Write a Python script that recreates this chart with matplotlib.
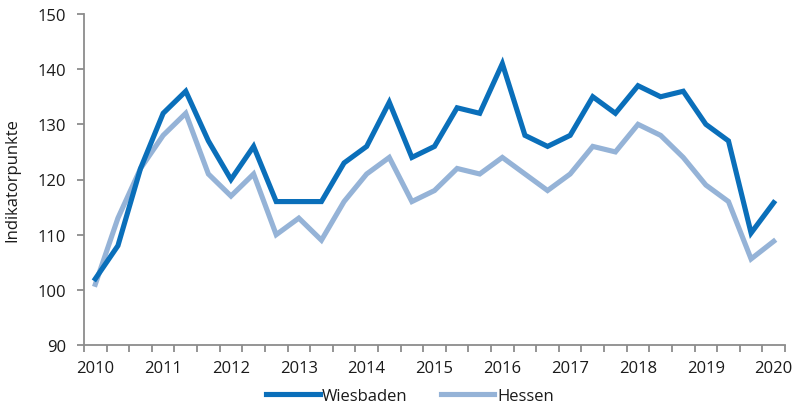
import matplotlib
matplotlib.use("Agg")
import matplotlib.pyplot as plt
import numpy as np

years = ["2010", "2011", "2012", "2013", "2014", "2015", "2016", "2017", "2018", "2019", "2020"]
wiesbaden = [102, 108, 122, 132, 136, 127, 120, 126, 116, 116, 116, 123, 126, 134, 124, 126,
             133, 132, 141, 128, 126, 128, 135, 132, 137, 135, 136, 130, 127, 110.3, 115.8]
hessen = [101, 113, 122, 128, 132, 121, 117, 121, 110, 113, 109, 116, 121, 124, 116, 118,
          122, 121, 124, 121, 118, 121, 126, 125, 130, 128, 124, 119, 116, 105.6, 108.8]

plt.rcParams['font.family'] = ['Open Sans', 'DejaVu Sans']

fig = plt.figure(figsize=(7.95, 4.10), dpi=100)
ax = fig.add_axes([84/795, 1 - 346/410, (785-84)/795, (346-15)/410])

n = len(wiesbaden)
x = np.arange(n)
ax.plot(x, wiesbaden, color='#0a6fba', lw=3.7, solid_joinstyle='miter', label='Wiesbaden', zorder=3)
ax.plot(x, hessen, color='#95b3d7', lw=3.7, solid_joinstyle='miter', label='Hessen', zorder=2)

ax.set_xlim(-0.5, n - 0.5)
ax.set_ylim(90, 150)
ax.set_yticks(np.arange(90, 151, 10))

ax.set_xticks(np.arange(0, n, 3))
ax.set_xticklabels(years)
ax.set_xticks(np.arange(-0.5, n, 1), minor=True)
ax.tick_params(axis='x', which='major', length=0, pad=11, labelsize=12, colors='#1a1a1a')
ax.tick_params(axis='x', which='minor', length=5, width=1.3, color='#8c8c8c')
ax.tick_params(axis='y', which='major', length=5, width=1.3, color='#8c8c8c', labelsize=12,
               pad=8, labelcolor='#1a1a1a')

for s in ['top', 'right']:
    ax.spines[s].set_visible(False)
for s in ['left', 'bottom']:
    ax.spines[s].set_color('#8c8c8c')
    ax.spines[s].set_linewidth(1.3)

ax.set_ylabel('Indikatorpunkte', fontsize=12, labelpad=12, color='#1a1a1a')

leg = fig.legend(loc='center', bbox_to_anchor=(410/795, 1 - 397/410), ncol=2, frameon=False,
                 fontsize=12, handlelength=3.2, handletextpad=0.15, columnspacing=2.0)
for t in leg.get_texts():
    t.set_color('#1a1a1a')

fig.savefig('out.png', dpi=100)
